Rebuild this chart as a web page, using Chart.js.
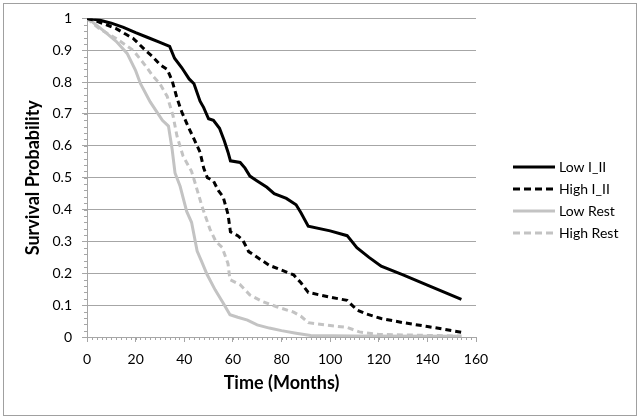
<!DOCTYPE html>
<html>
<head>
<meta charset="utf-8">
<script src="https://cdn.jsdelivr.net/npm/chart.js@4/dist/chart.umd.min.js"></script>
<style>
  html, body { margin: 0; padding: 0; background: #fff; }
  #box { width: 641px; height: 420px; }
</style>
</head>
<body>
<div id="box"><canvas id="myChart" width="641" height="420"></canvas></div>
<script>
// Survival curves (months, probability)
var lowI_t  = [0, 5, 10, 15, 20, 25, 30, 34, 36, 39, 42, 44, 46.5, 48, 50, 52, 54.5, 56.5, 58, 59, 63, 65, 67, 70, 74, 77, 82, 86, 88, 91, 100, 107, 111, 116, 121, 130, 140, 154];
var lowI_s  = [1, 0.995, 0.985, 0.972, 0.955, 0.94, 0.925, 0.912, 0.875, 0.845, 0.81, 0.795, 0.74, 0.72, 0.685, 0.68, 0.655, 0.615, 0.58, 0.553, 0.548, 0.53, 0.505, 0.49, 0.47, 0.45, 0.435, 0.415, 0.39, 0.348, 0.333, 0.318, 0.28, 0.25, 0.222, 0.195, 0.163, 0.118];

var highI_t = [0, 3, 8, 12, 16, 19, 22, 24, 27, 30, 33, 35, 37, 39, 41.5, 43.5, 46.5, 48, 49.5, 52, 54, 56, 58, 59, 62, 64, 66.5, 70, 75, 80, 85, 88, 91, 100, 107, 111, 115, 121, 130, 140, 154];
var highI_s = [1, 0.994, 0.98, 0.968, 0.95, 0.937, 0.915, 0.9, 0.88, 0.855, 0.84, 0.805, 0.75, 0.706, 0.662, 0.63, 0.58, 0.53, 0.5, 0.49, 0.46, 0.44, 0.385, 0.33, 0.318, 0.305, 0.268, 0.25, 0.225, 0.21, 0.195, 0.17, 0.14, 0.125, 0.115, 0.085, 0.072, 0.058, 0.045, 0.033, 0.015];

var lowR_t  = [0, 2, 7, 12, 16.5, 20, 22, 26, 31, 33.5, 35, 36.2, 38.3, 41, 43, 45.3, 47, 49.4, 52.7, 56, 58.8, 62, 66, 70, 75, 80, 86, 92, 110, 154];
var lowR_s  = [1, 0.99, 0.96, 0.928, 0.89, 0.836, 0.795, 0.738, 0.68, 0.662, 0.59, 0.515, 0.473, 0.394, 0.36, 0.27, 0.24, 0.196, 0.148, 0.107, 0.07, 0.062, 0.053, 0.038, 0.028, 0.02, 0.012, 0.005, 0.003, 0.002];

var highR_t = [0, 5, 12, 19, 24, 27, 30, 33, 35.4, 37, 39.5, 43, 44.4, 47.3, 50.6, 53, 55.6, 58, 58.8, 63, 67, 72, 78, 85, 88, 91, 100, 107, 112, 120, 154];
var highR_s = [1, 0.968, 0.937, 0.9, 0.852, 0.82, 0.795, 0.755, 0.694, 0.631, 0.568, 0.52, 0.485, 0.41, 0.338, 0.3, 0.281, 0.23, 0.18, 0.164, 0.132, 0.112, 0.095, 0.078, 0.065, 0.045, 0.036, 0.03, 0.016, 0.008, 0.003];

var seriesNames = ["Low I_II", "High I_II", "Low Rest", "High Rest"];
var xTicks = [0, 20, 40, 60, 80, 100, 120, 140, 160];
var yTicks = [0, 0.1, 0.2, 0.3, 0.4, 0.5, 0.6, 0.7, 0.8, 0.9, 1];

var FONT = "Lato, 'Liberation Sans', sans-serif";
var GRID = "#a6a6a6";

function pts(t, s) {
  var out = [];
  for (var i = 0; i < t.length; i++) out.push({ x: t[i], y: s[i] });
  return out;
}

function line(label, t, s, color, dash) {
  return {
    label: label,
    data: pts(t, s),
    borderColor: color,
    backgroundColor: color,
    borderWidth: 3,
    borderDash: dash,
    pointRadius: 0,
    tension: 0,
    fill: false
  };
}

var data = {
  datasets: [
    line(seriesNames[0], lowI_t, lowI_s, "#000000", []),
    line(seriesNames[1], highI_t, highI_s, "#000000", [6, 4]),
    line(seriesNames[2], lowR_t, lowR_s, "#c3c3c3", []),
    line(seriesNames[3], highR_t, highR_s, "#c3c3c3", [6, 4])
  ]
};

// outer frame, minor tick marks and the legend on the right
var extras = {
  id: "extras",
  afterDraw: function (chart) {
    var ctx = chart.ctx;
    var xs = chart.scales.x, ys = chart.scales.y;
    var area = chart.chartArea;
    ctx.save();
    ctx.strokeStyle = "#a0a0a0";
    ctx.lineWidth = 1;
    ctx.strokeRect(3.5, 3.5, 633, 412);

    ctx.strokeStyle = GRID;
    ctx.beginPath();
    for (var v = 0; v <= 160; v += 2) {
      var px = Math.round(xs.getPixelForValue(v)) + 0.5;
      ctx.moveTo(px, area.bottom);
      ctx.lineTo(px, area.bottom + 3);
    }
    for (var k = 0; k <= 50; k++) {
      var py = Math.round(ys.getPixelForValue(k * 0.02)) + 0.5;
      ctx.moveTo(area.left - 3, py);
      ctx.lineTo(area.left, py);
    }
    ctx.stroke();

    // legend
    var lx = 513, ly = 167;
    ctx.font = "14px " + FONT;
    ctx.textBaseline = "middle";
    chart.data.datasets.forEach(function (ds, i) {
      var y = ly + i * 22;
      ctx.beginPath();
      ctx.strokeStyle = ds.borderColor;
      ctx.lineWidth = 3;
      ctx.setLineDash(ds.borderDash.length ? [7, 4] : []);
      ctx.moveTo(lx, y);
      ctx.lineTo(lx + 42, y);
      ctx.stroke();
      ctx.setLineDash([]);
      ctx.fillStyle = "#000";
      ctx.fillText(ds.label, lx + 46, y);
    });
    ctx.restore();
  }
};

var myChart = new Chart(document.getElementById("myChart").getContext("2d"), {
  type: "line",
  data: data,
  plugins: [extras],
  options: {
    responsive: false,
    animation: false,
    layout: { padding: { left: 22, right: 165, top: 14, bottom: 26 } },
    plugins: { legend: { display: false }, tooltip: { enabled: false } },
    scales: {
      x: {
        type: "linear",
        min: 0,
        max: 160,
        afterBuildTicks: function (s) { s.ticks = xTicks.map(function (v) { return { value: v }; }); },
        afterFit: function (s) { s.height = 57; },
        border: { color: GRID },
        grid: { drawOnChartArea: false, drawTicks: true, tickLength: 5, tickColor: GRID },
        ticks: { color: "#000", font: { family: FONT, size: 14 }, padding: 9, maxRotation: 0 },
        title: { display: true, text: "Time (Months)", color: "#000", font: { family: FONT, size: 18, weight: "bold" }, padding: 0 }
      },
      y: {
        min: 0,
        max: 1,
        afterBuildTicks: function (s) { s.ticks = yTicks.map(function (v) { return { value: v }; }); },
        afterFit: function (s) { s.width = 65; },
        border: { color: GRID },
        grid: { color: GRID, tickLength: 5, tickColor: GRID },
        ticks: {
          color: "#000", font: { family: FONT, size: 14 }, padding: 10,
          callback: function (v) { return String(Math.round(v * 10) / 10); }
        },
        title: { display: true, text: "Survival Probability", color: "#000", font: { family: FONT, size: 18, weight: "bold" }, padding: 0 }
      }
    }
  }
});
</script>
</body>
</html>
